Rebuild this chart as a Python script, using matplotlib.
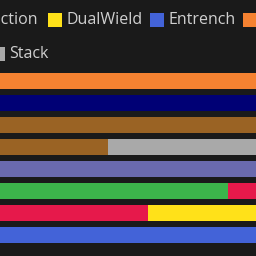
import numpy as np
import matplotlib.pyplot as plt
from matplotlib.patches import Rectangle

plt.rcParams['font.family'] = ['Open Sans', 'DejaVu Sans']

BG = '#1a1a1a'
TXT = '#d0d0d0'

# categories from top to bottom (labels are outside the visible crop)
categories = ['Unit A', 'Unit B', 'Unit C', 'Unit D', 'Unit E', 'Unit F', 'Unit G', 'Unit H']

# stacked series, drawn in this order
series_names = ['Ambush', 'Counteraction', 'DualWield', 'Entrench', 'Flank',
                'Guard', 'Overwatch', 'Rally', 'Stack']
series_colors = ['#3cb44b', '#e6194b', '#ffe119', '#4363d8', '#f58231',
                 '#000075', '#6a6aae', '#9a6324', '#a9a9a9']
ambush        = [0, 0, 0, 0, 0, 8.9, 0, 0]
counteraction = [0, 0, 0, 0, 0, 3.0, 5.8, 0]
dualwield     = [0, 0, 0, 0, 0, 0, 6.0, 0]
entrench      = [0, 0, 0, 0, 0, 0, 0, 12.0]
flank         = [12.0, 0, 0, 0, 0, 0, 0, 0]
guard         = [0, 12.0, 0, 0, 0, 0, 0, 0]
overwatch     = [0, 0, 0, 0, 12.0, 0, 0, 0]
rally         = [0, 0, 12.0, 4.2, 0, 0, 0, 0]
stack         = [0, 0, 0, 7.0, 0, 0, 0, 0]
series_values = [ambush, counteraction, dualwield, entrench, flank,
                 guard, overwatch, rally, stack]

fig = plt.figure(figsize=(2.56, 2.56), dpi=100, facecolor=BG)
ax = fig.add_axes([0, 0, 1, 186 / 256])
ax.set_facecolor(BG)

y = np.arange(len(categories))
left = np.zeros(len(categories))
for name, color, vals in zip(series_names, series_colors, series_values):
    vals = np.array(vals)
    ax.barh(y, vals, left=left, height=0.72, color=color, label=name)
    left += vals

ax.set_xlim(0, 10)
ax.set_ylim(7.95, -0.5)
ax.axis('off')

# legend, flowing past the crop edges
W = 256.0
def patch(x, ytop, color):
    fig.add_artist(Rectangle((x / W, 1 - (ytop + 14) / W), 14 / W, 14 / W,
                             transform=fig.transFigure, color=color, lw=0))

def label(x, yc, s, ha='left'):
    fig.text(x / W, 1 - yc / W, s, color=TXT, fontsize=11.5, ha=ha, va='center')

label(37, 20, 'Counteraction', ha='right')
patch(48, 13, '#ffe119')
label(66, 20, 'DualWield')
patch(150, 13, '#4363d8')
label(169, 20, 'Entrench')
patch(243, 13, '#f58231')
label(261, 20, 'Flank')
patch(-9, 47, '#a9a9a9')
label(9, 54, 'Stack')

fig.savefig('out.png', dpi=100, facecolor=BG)
